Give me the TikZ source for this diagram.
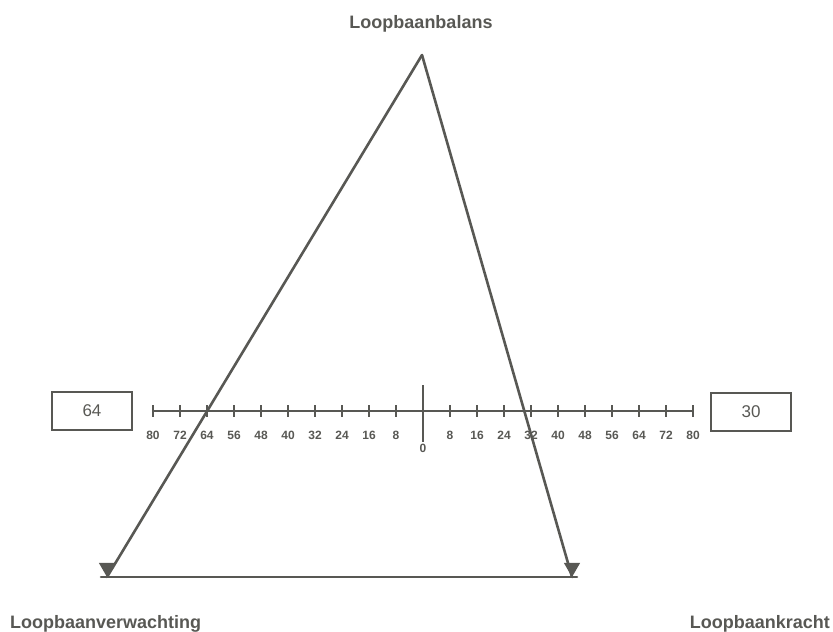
\documentclass[tikz,border=0pt]{standalone}
\usepackage{fontspec}
\setmainfont{Liberation Sans}
\usetikzlibrary{shapes.geometric}
\definecolor{ink}{RGB}{88,88,84}
\begin{document}
\begin{tikzpicture}[x=1pt,y=-1pt,font=\bfseries\fontsize{18}{20}\selectfont,text=ink,
  lbl/.style={inner sep=0pt},
  val/.style={draw=ink,line width=2.8pt,minimum width=80pt,minimum height=38pt,font=\fontsize{17}{19}\selectfont},
  num/.style={inner sep=0pt,font=\bfseries\fontsize{12}{13}\selectfont},
  leg/.style={draw=ink,line width=2.6pt,line cap=round},
  axis/.style={draw=ink,line width=2.4pt},
  tip/.style={fill=ink,regular polygon,regular polygon sides=3,shape border rotate=180,inner sep=0pt,outer sep=0pt,minimum size=19pt,anchor=corner 1}]
  \useasboundingbox (0,0) rectangle (833,632);
  % driehoek
  \coordinate (top) at (422,55);
  \coordinate (lv) at (107,577);
  \coordinate (lk) at (572,577);
  \draw[leg](top)--(lv);\draw[leg](top)--(lk);
  \draw[leg,shorten <=-6pt,shorten >=-5pt](lv)--(lk);
  \node[tip](tv) at (lv){};\node[tip](tk) at (lk){};
  % schaal
  \coordinate (o) at (423,411);
  \draw[axis](152,411)--(692,411);
  \foreach \v in {8,16,...,80}{
    \draw[axis](423+3.375*\v,405)--(423+3.375*\v,417);
    \draw[axis](423-3.375*\v,405)--(423-3.375*\v,417);
    \node[num](r\v) at (423+3.375*\v,435){\v};
    \node[num](l\v) at (423-3.375*\v,435){\v};
  }
  \draw[axis](423,385)--(423,442);
  \node[num](n0) at (423,448){0};
  % waarden
  \node[val](bv) at (92,411){64};
  \node[val](bk) at (751,412){30};
  % labels
  \node[lbl,anchor=base](bal) at (421,28){Loopbaanbalans};
  \node[lbl,anchor=base west](verw) at (10,628){Loopbaanverwachting};
  \node[lbl,anchor=base east](kr) at (830,628){Loopbaankracht};
\end{tikzpicture}
\end{document}
